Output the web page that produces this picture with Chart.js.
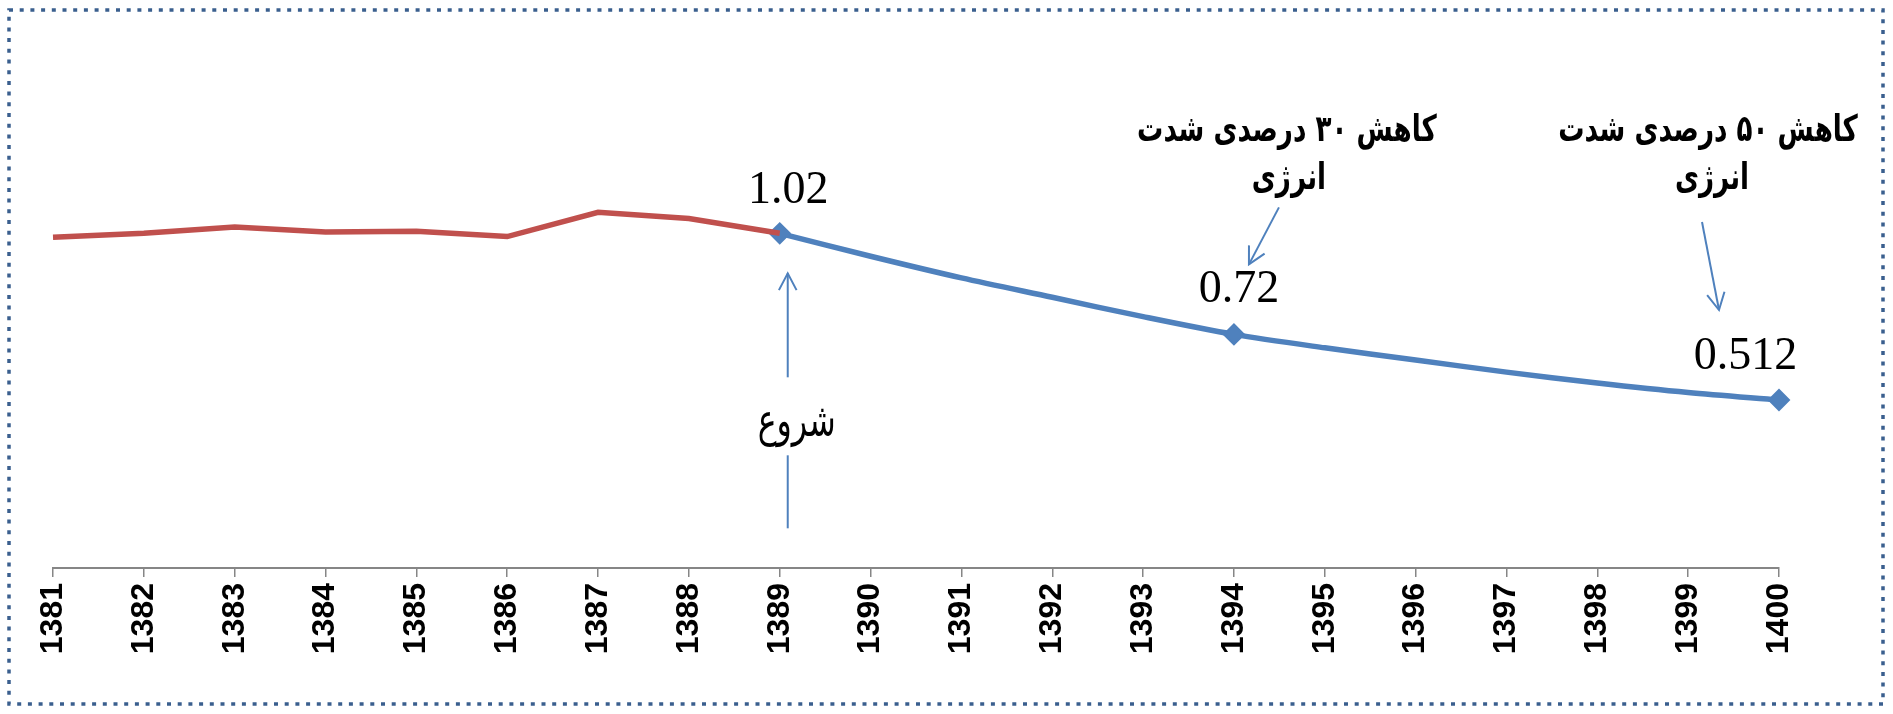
<!DOCTYPE html>
<html>
<head>
<meta charset="utf-8">
<script src="https://cdn.jsdelivr.net/npm/chart.js@4.4.1/dist/chart.umd.min.js"></script>
<style>
  html, body { margin: 0; padding: 0; background: #ffffff; }
  #wrap { width: 1893px; height: 714px; position: relative; }
</style>
</head>
<body>
<div id="wrap"><canvas id="c" width="1893" height="714"></canvas></div>
<script>
// ---- data ----
const years = ['1381','1382','1383','1384','1385','1386','1387','1388','1389','1390',
               '1391','1392','1393','1394','1395','1396','1397','1398','1399','1400'];
const historical = [1.008, 1.020, 1.039, 1.024, 1.026, 1.010, 1.084, 1.065, 1.020,
                    null, null, null, null, null, null, null, null, null, null, null];
const plan = [null, null, null, null, null, null, null, null,
              1.020, 0.950, 0.884, 0.825, 0.766, 0.712, 0.671, 0.634, 0.597, 0.564, 0.535, 0.512];
const markerYears = ['1389', '1394', '1400'];
const valueLabels = ['1.02', '0.72', '0.512'];
const startLabel = 'شروع';
const note30 = ['کاهش ۳۰ درصدی شدت', 'انرژی'];
const note50 = ['کاهش ۵۰ درصدی شدت', 'انرژی'];

const RED = '#C0504D';
const BLUE = '#4F81BD';

function arrow(ctx, x1, y1, x2, y2, head) {
  const ang = Math.atan2(y2 - y1, x2 - x1);
  ctx.beginPath();
  ctx.moveTo(x1, y1);
  ctx.lineTo(x2, y2);
  ctx.stroke();
  if (head) {
    const hl = 19, ha = Math.PI / 6.5;
    ctx.beginPath();
    ctx.moveTo(x2 - hl * Math.cos(ang - ha), y2 - hl * Math.sin(ang - ha));
    ctx.lineTo(x2, y2);
    ctx.lineTo(x2 - hl * Math.cos(ang + ha), y2 - hl * Math.sin(ang + ha));
    ctx.stroke();
  }
}

function fitSize(ctx, text, weight, family, targetW) {
  ctx.font = weight + ' 100px ' + family;
  const w = ctx.measureText(text).width;
  return 100 * targetW / w;
}

function tallText(ctx, text, x, y, k) {
  ctx.save();
  ctx.translate(x, y);
  ctx.scale(1, k);
  ctx.fillText(text, 0, 0);
  ctx.restore();
}

const decor = {
  id: 'decor',
  beforeDraw(chart) {
    const ctx = chart.ctx;
    ctx.save();
    ctx.fillStyle = '#ffffff';
    ctx.fillRect(0, 0, chart.width, chart.height);
    ctx.restore();
  },
  afterDraw(chart) {
    const ctx = chart.ctx;
    const xs = chart.scales.x, ys = chart.scales.y;
    const pt = (yr) => {
      const i = years.indexOf(yr);
      return { x: xs.getPixelForValue(i), y: ys.getPixelForValue(plan[i]) };
    };
    const p1 = pt(markerYears[0]), p2 = pt(markerYears[1]), p3 = pt(markerYears[2]);

    ctx.save();
    // value labels
    ctx.fillStyle = '#000';
    ctx.font = '46px "Liberation Serif", "Times New Roman", serif';
    ctx.textAlign = 'center';
    ctx.textBaseline = 'alphabetic';
    ctx.fillText(valueLabels[0], p1.x + 8.5, p1.y - 30);
    ctx.fillText(valueLabels[1], p2.x + 5, p2.y - 32);
    ctx.fillText(valueLabels[2], p3.x - 33.5, p3.y - 31.5);

    // arrows
    ctx.strokeStyle = BLUE;
    ctx.lineWidth = 2;
    ctx.lineCap = 'butt';
    arrow(ctx, p1.x + 8, p1.y + 144, p1.x + 8, p1.y + 40, true);
    arrow(ctx, p1.x + 8, p1.y + 295, p1.x + 8, p1.y + 222, false);
    arrow(ctx, p2.x + 45, p2.y - 127, p2.x + 15, p2.y - 70, true);
    arrow(ctx, p3.x - 77, p3.y - 178, p3.x - 60, p3.y - 90, true);

    // Persian texts
    ctx.direction = 'rtl';
    ctx.textAlign = 'center';
    const fam = '"DejaVu Sans", sans-serif';
    let s = fitSize(ctx, startLabel, 'normal', fam, 78);
    ctx.font = 'normal ' + s.toFixed(1) + 'px ' + fam;
    tallText(ctx, startLabel, p1.x + 17, p1.y + 203, 1.45);

    s = fitSize(ctx, note30[0], 'bold', fam, 300);
    ctx.font = 'bold ' + s.toFixed(1) + 'px ' + fam;
    tallText(ctx, note30[0], p2.x + 53, p2.y - 193, 1.4);
    tallText(ctx, note30[1], p2.x + 55, p2.y - 145, 1.4);
    tallText(ctx, note50[0], p3.x - 71, p3.y - 259, 1.4);
    tallText(ctx, note50[1], p3.x - 67, p3.y - 211, 1.4);

    // dotted frame
    ctx.direction = 'ltr';
    ctx.strokeStyle = '#3A5F8E';
    ctx.lineWidth = 3.5;
    ctx.setLineDash([4, 6.7]);
    ctx.strokeRect(9, 10, chart.width - 19, chart.height - 20);
    ctx.restore();
  }
};

const markerRadius = (ctx) => markerYears.includes(years[ctx.dataIndex]) ? 10 : 0;

new Chart(document.getElementById('c'), {
  type: 'line',
  data: {
    labels: years,
    datasets: [
      {
        data: historical,
        borderColor: RED,
        borderWidth: 5.5,
        pointRadius: 0,
        pointHoverRadius: 0,
        tension: 0,
        spanGaps: false,
        clip: false
      },
      {
        data: plan,
        borderColor: BLUE,
        backgroundColor: BLUE,
        borderWidth: 5.5,
        pointStyle: 'rectRot',
        pointRadius: markerRadius,
        pointHoverRadius: markerRadius,
        pointBorderWidth: 2,
        pointBorderColor: BLUE,
        pointBackgroundColor: BLUE,
        tension: 0.3,
        clip: false
      }
    ]
  },
  options: {
    responsive: false,
    animation: false,
    events: [],
    layout: { padding: { top: 43, left: 53, right: 114, bottom: 0 } },
    plugins: { legend: { display: false }, tooltip: { enabled: false } },
    scales: {
      y: { display: false, min: 0, max: 1.6 },
      x: {
        offset: false,
        afterFit(scale) { scale.height = 146; },
        border: { display: true, color: '#868686', width: 2 },
        grid: { drawOnChartArea: false, drawTicks: true, tickLength: 9, color: '#868686', lineWidth: 1.5 },
        ticks: {
          minRotation: 90, maxRotation: 90, padding: 6, autoSkip: false,
          color: '#000',
          font: { family: '"Liberation Sans Narrow", "Arial Narrow", "Liberation Sans", Arial', weight: 'bold', size: 32 }
        }
      }
    }
  },
  plugins: [decor]
});
</script>
</body>
</html>
